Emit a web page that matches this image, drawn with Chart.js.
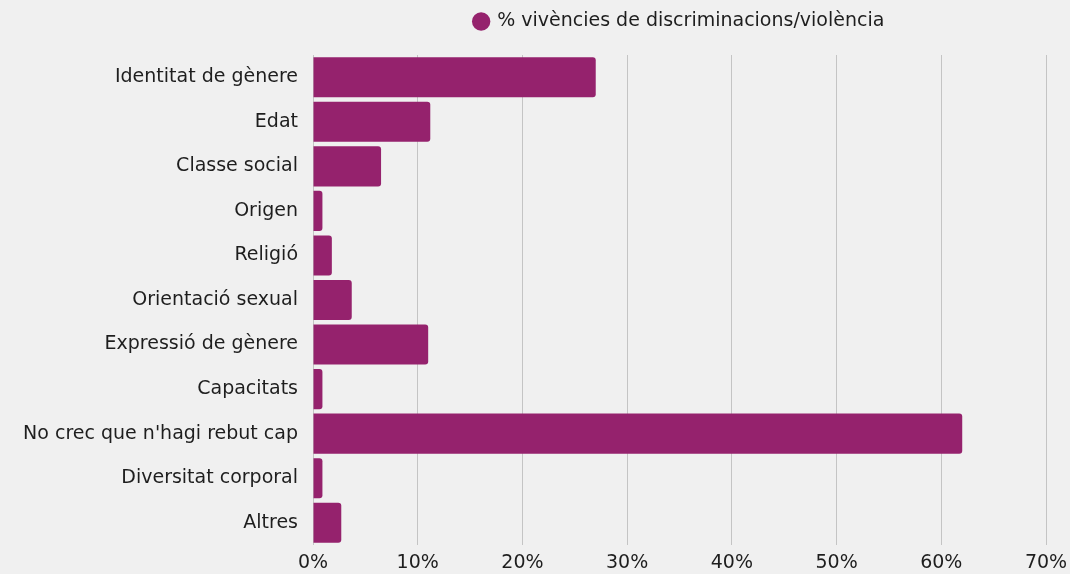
<!DOCTYPE html>
<html>
<head>
<meta charset="utf-8">
<script src="https://cdn.jsdelivr.net/npm/chart.js@4"></script>
<style>
  html, body { margin: 0; padding: 0; background: #f0f0f0; }
  #wrap { width: 1070px; height: 574px; }
</style>
</head>
<body>
<div id="wrap"><canvas id="chart"></canvas></div>
<script>
const categories = [
    "Identitat de gènere", "Edat", "Classe social", "Origen", "Religió",
    "Orientació sexual", "Expressió de gènere", "Capacitats",
    "No crec que n'hagi rebut cap", "Diversitat corporal", "Altres"
];
const series_label = "% vivències de discriminacions/violència";
const values = [27, 11.2, 6.5, 0.9, 1.8, 3.7, 11, 0.9, 62, 0.9, 2.7];
const x_ticks_max = 70;

// slightly wider text, legend centred over the plot area and lifted a bit
const tweaks = {
    id: 'tweaks',
    beforeInit(chart) {
        chart.ctx.letterSpacing = '0.4px';
    },
    afterLayout(chart) {
        const lg = chart.legend;
        lg.left = chart.chartArea.left;
        lg.right = chart.chartArea.right;
        lg.top -= 14;
        lg.bottom -= 14;
    }
};

Chart.defaults.font.family = "'DejaVu Sans', sans-serif";
Chart.defaults.color = "#1e1e1e";

new Chart(document.getElementById('chart').getContext('2d'), {
    type: 'bar',
    data: {
        labels: categories,
        datasets: [{
            label: series_label,
            data: values,
            backgroundColor: "#95226d",
            borderRadius: 3,
            borderSkipped: 'start',
            barPercentage: 0.9,
            categoryPercentage: 1
        }]
    },
    options: {
        indexAxis: 'y',
        responsive: true,
        maintainAspectRatio: false,
        animation: false,
        layout: { padding: { top: 13, right: 0, bottom: 0, left: 0 } },
        plugins: {
            legend: {
                position: 'top',
                labels: {
                    usePointStyle: true,
                    pointStyle: 'circle',
                    boxWidth: 13,
                    boxHeight: 13,
                    padding: 13,
                    font: { size: 19 },
                    color: "#1e1e1e"
                }
            },
            tooltip: { enabled: false }
        },
        scales: {
            x: {
                min: 0,
                max: x_ticks_max,
                border: { display: false },
                grid: { color: "#c4c4c4", drawTicks: false },
                ticks: {
                    stepSize: 10,
                    padding: 7,
                    font: { size: 19 },
                    callback: v => v + "%"
                },
                afterFit: s => { s.height = 29; s.paddingRight = 24; }
            },
            y: {
                border: { display: false },
                grid: { display: false, drawTicks: false },
                ticks: { padding: 15, font: { size: 19 }, autoSkip: false },
                afterFit: s => { s.width = 313; }
            }
        }
    },
    plugins: [tweaks]
});
</script>
</body>
</html>
